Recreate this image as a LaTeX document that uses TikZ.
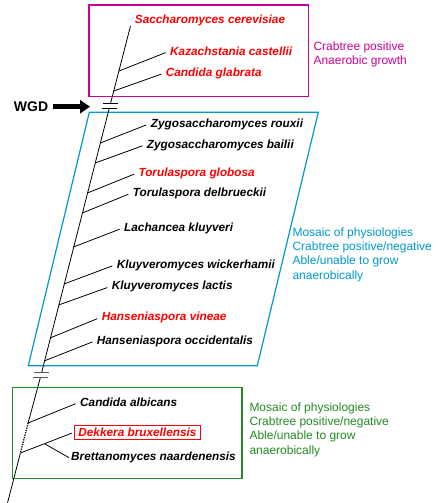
\documentclass[tikz,border=0pt]{standalone}
\usepackage{fontspec}
\setmainfont{Liberation Sans}
\usetikzlibrary{arrows.meta,calc}
\definecolor{crabmag}{RGB}{204,0,153}
\definecolor{mosblue}{RGB}{0,153,204}
\definecolor{mosgreen}{RGB}{34,139,34}
\newcommand{\spfont}{\fontsize{11.8}{13}\selectfont\bfseries\itshape}
\newcommand{\notefont}{\fontsize{12}{14.3}\selectfont}
\tikzset{
  sp/.style={anchor=west, inner sep=2pt, font=\spfont},
  spred/.style={sp, text=red},
  note/.style={anchor=west, inner sep=2pt, align=left, font=\notefont},
  branch/.style={line width=0.8pt, shorten >=2.5pt},
  brk/.style={line width=1pt}
}

\begin{document}
\begin{tikzpicture}[x=1pt,y=-1pt]
\useasboundingbox (0,0) rectangle (437,503);
\draw[crabmag, line width=1.5pt] (89,5) rectangle (308.3,96.7);
\draw[mosblue, line width=1.2pt] (89.3,112.3) -- (318.3,112.3) -- (257.3,365.7) -- (28.3,365.7) -- cycle;
\draw[mosgreen, line width=1.5pt] (12.7,387.3) rectangle (242,478.3);
\node (crab) [note, text=crabmag] at (311.3,54.2) {Crabtree positive\\Anaerobic growth};
\node (mosb) [note, text=mosblue] at (290.3,254.7) {Mosaic of physiologies\\Crabtree positive/negative\\Able/unable to grow\\anaerobically};
\node (mosg) [note, text=mosgreen] at (247.3,429.7) {Mosaic of physiologies\\Crabtree positive/negative\\Able/unable to grow\\anaerobically};
\node (wgd) [font=\fontsize{14}{16}\selectfont\bfseries, inner sep=2pt] at (31,106.7) {WGD};
\coordinate (wgdtip) at (90,106.7);
\draw[line width=5pt, -{Triangle[length=10pt,width=13pt]}, shorten <=3pt] (wgd.east) -- (wgdtip);
\coordinate (top) at (130.5,26);
\coordinate (bot) at (7.5,503);
\coordinate (w1) at (110.5,103.5);
\coordinate (w2) at (109.2,108.5);
\coordinate (g1) at (41.6,372.7);
\coordinate (g2) at (40.5,377);
\coordinate (kcaspt) at (118.9,71);
\coordinate (cglapt) at (113.7,91);
\coordinate (zroupt) at (100.3,143);
\coordinate (zbaipt) at (95.2,163);
\coordinate (tglopt) at (87.4,193);
\coordinate (tdelpt) at (82.3,213);
\coordinate (lklupt) at (73.5,247);
\coordinate (kwicpt) at (64,284);
\coordinate (klacpt) at (58.6,305);
\coordinate (hvinpt) at (50,338);
\coordinate (hoccpt) at (44.1,361);
\coordinate (calbpt) at (28.1,423);
\coordinate (dbrupt) at (20.4,453);
\node (scer) [spred] at (132.7,20.7) {Saccharomyces cerevisiae};
\node (kcas) [spred] at (168,51.7) {Kazachstania castellii};
\node (cgla) [spred] at (163.7,73.3) {Candida glabrata};
\node (zrou) [sp] at (148.7,124) {Zygosaccharomyces rouxii};
\node (zbai) [sp] at (144.7,145) {Zygosaccharomyces bailii};
\node (tglo) [spred] at (136.3,173.3) {Torulaspora globosa};
\node (tdel) [sp] at (130.7,193.3) {Torulaspora delbrueckii};
\node (lklu) [sp] at (122,228.3) {Lachancea kluyveri};
\node (kwic) [sp] at (114.7,265) {Kluyveromyces wickerhamii};
\node (klac) [sp] at (109.7,286.7) {Kluyveromyces lactis};
\node (hvin) [spred] at (99.7,317.7) {Hanseniaspora vineae};
\node (hocc) [sp] at (94.7,341) {Hanseniaspora occidentalis};
\node (calb) [sp] at (78,402.7) {Candida albicans};
\node (dbru) [spred, draw=red, line width=0.8pt, inner xsep=4pt, minimum height=13.3pt] at (74,432.3) {Dekkera bruxellensis};
\node (bnaa) [sp] at (69,457.7) {Brettanomyces naardenensis};
\draw[line width=0.8pt] (top) -- (w1);
\draw[line width=0.8pt] (w2) -- (g1);
\draw[line width=0.8pt] (g2) -- (calbpt);
\draw[line width=1.3pt, dash pattern=on 1.2pt off 1.2pt] (calbpt) -- (dbrupt);
\draw[line width=0.8pt] (dbrupt) -- (bot);
\draw[brk] ([xshift=-7.5pt]w1) -- ([xshift=7.5pt]w1);
\draw[brk] ([xshift=-7.5pt]w2) -- ([xshift=7.5pt]w2);
\draw[brk, black!65] ([xshift=-7.5pt]g1) -- ([xshift=7.5pt]g1);
\draw[brk, black!65] ([xshift=-7.5pt]g2) -- ([xshift=7.5pt]g2);
\draw[branch] (kcaspt) -- (kcas.west);
\draw[branch] (cglapt) -- (cgla.west);
\draw[branch] (zroupt) -- (zrou.west);
\draw[branch] (zbaipt) -- (zbai.west);
\draw[branch] (tglopt) -- (tglo.west);
\draw[branch] (tdelpt) -- (tdel.west);
\draw[branch] (lklupt) -- (lklu.west);
\draw[branch] (kwicpt) -- (kwic.west);
\draw[branch] (klacpt) -- (klac.west);
\draw[branch] (hvinpt) -- (hvin.west);
\draw[branch] (hoccpt) -- (hocc.west);
\draw[branch] (calbpt) -- (calb.west);
\draw[branch] (dbrupt) -- (dbru.west);
\coordinate (bsplit) at ($(dbrupt)!0.45!(dbru.west)$);
\draw[line width=0.8pt] (bsplit) -- (bnaa.west);
\end{tikzpicture}
\end{document}
